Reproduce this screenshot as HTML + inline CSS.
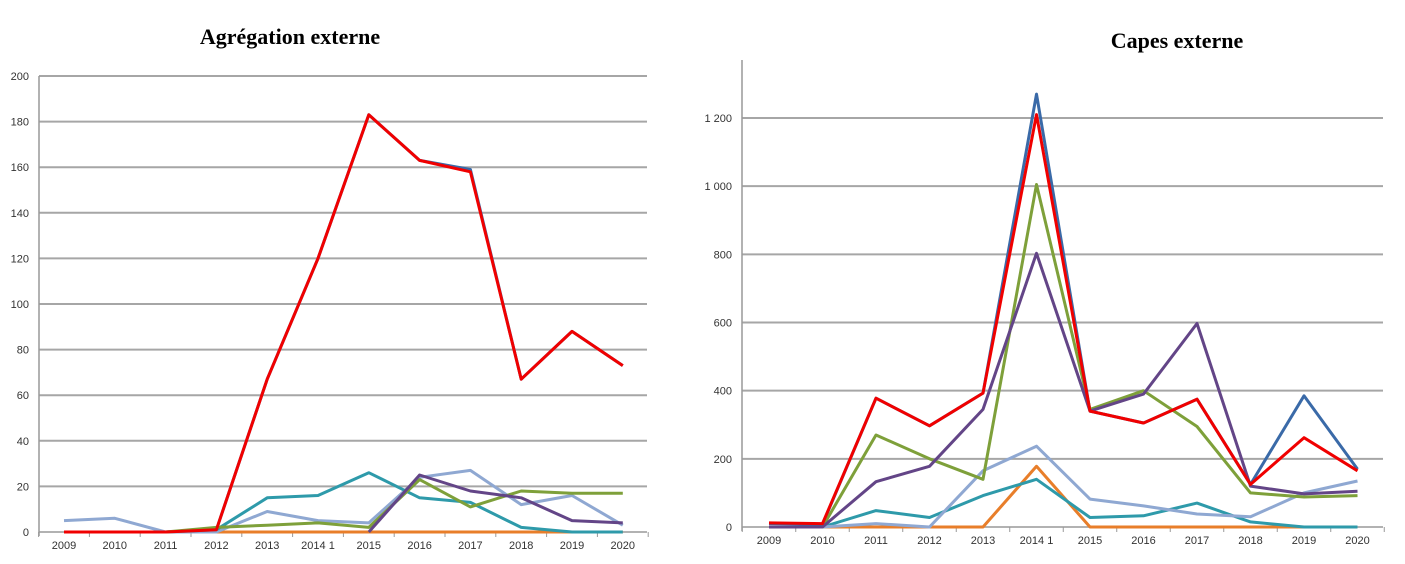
<!DOCTYPE html>
<html><head><meta charset="utf-8"><style>
body{margin:0;background:#fff;width:1405px;height:559px;overflow:hidden}
svg text{font-family:"Liberation Sans",sans-serif}
</style></head><body>
<svg id="s" width="1405" height="559">
<text x="290" y="44" text-anchor="middle" font-weight="bold" font-size="22" style="font-family:'Liberation Serif',serif">Agrégation externe</text>
<text x="1177" y="48" text-anchor="middle" font-weight="bold" font-size="22" style="font-family:'Liberation Serif',serif">Capes externe</text>
</svg>
<script>
const categories=["2009","2010","2011","2012","2013","2014 1","2015","2016","2017","2018","2019","2020"];
const leftTicks=[0,20,40,60,80,100,120,140,160,180,200];
const leftBlue=[0,0,0,1,67,120,183,163,159,67,88,73];
const leftRed=[0,0,0,1,67,120,183,163,158,67,88,73];
const leftTeal=[null,null,0,1,15,16,26,15,13,2,0,0];
const leftLight=[5,6,0,0,9,5,4,24,27,12,16,3];
const leftGreen=[null,null,0,2,3,4,2,23,11,18,17,17];
const leftPurple=[null,null,null,null,null,null,0,25,18,15,5,4];
const leftOrange=[0,0,0,0,0,0,0,0,0,0,0,0];
const rightTicks=[0,200,400,600,800,1000,1200];
const rightTickLabels=["0","200","400","600","800","1 000","1 200"];
const rightBlue=[10,8,378,297,393,1270,340,305,375,125,385,170];
const rightRed=[12,10,378,297,393,1210,340,305,375,125,262,165];
const rightGreen=[0,0,270,200,140,1005,345,400,295,100,88,92];
const rightPurple=[0,0,133,178,345,803,340,390,597,120,97,105];
const rightLight=[0,0,10,0,165,237,82,62,38,30,100,135];
const rightTeal=[0,0,48,28,92,140,28,33,70,15,0,0];
const rightOrange=[0,0,0,0,0,178,0,0,0,0,0,0];
const C={blue:"#3a6aa8",red:"#f00000",green:"#7ea03a",purple:"#634587",light:"#8fa8d2",teal:"#2e9aaa",orange:"#e87e2a"};
const svg=document.getElementById('s');const NS="http://www.w3.org/2000/svg";
function mk(t,a,p){const e=document.createElementNS(NS,t);for(const k in a)e.setAttribute(k,a[k]);(p||svg).appendChild(e);return e;}
function chart(cfg){
 const{ax,x0,dx,y0,yTop,vmax,gx2,axTop,ticks,labels,series,id}=cfg;
 const X=i=>x0+i*dx, Y=v=>y0-(y0-yTop)*v/vmax;
 const g=mk('g',{});
 ticks.forEach((t,i)=>{
  if(t>0){const l=mk('line',{x1:ax,x2:gx2,y1:Y(t),y2:Y(t),stroke:"#a6a6a6","stroke-width":2},g);}
  const tx=mk('text',{x:ax-10,y:Y(t)+4,"text-anchor":"end","font-size":11,fill:"#333"},g);tx.textContent=labels[i];
  
 });
 const a=mk('line',{x1:ax,x2:ax,y1:axTop,y2:y0+4,stroke:"#999","stroke-width":1.5},g);
 const b=mk('line',{x1:ax,x2:gx2,y1:y0,y2:y0,stroke:"#999","stroke-width":1.5},g);
 for(let i=0;i<=categories.length;i++){mk('line',{x1:X(i)-dx/2,x2:X(i)-dx/2,y1:y0,y2:y0+5,stroke:"#999"},g);}
 categories.forEach((c,i)=>{const t=mk('text',{x:X(i),y:y0+17,"text-anchor":"middle","font-size":11,fill:"#333"},g);t.textContent=c;
  });
 series.forEach(([name,vals])=>{let d="",pen=false;vals.forEach((v,i)=>{if(v==null){pen=false;return;}d+=(pen?"L":"M")+X(i).toFixed(1)+","+Y(v).toFixed(1);pen=true;});
  const p=mk('path',{d,fill:"none",stroke:C[name],"stroke-width":3,"stroke-linejoin":"round"},g);
  });
}
chart({id:"agregation",ax:39,x0:64,dx:50.8,y0:532,yTop:76,vmax:200,gx2:647,axTop:76,ticks:leftTicks,labels:leftTicks.map(String),
 series:[["orange",leftOrange],["blue",leftBlue],["light",leftLight],["teal",leftTeal],["green",leftGreen],["purple",leftPurple],["red",leftRed]]});
chart({id:"capes",ax:742,x0:769,dx:53.5,y0:527,yTop:118,vmax:1200,gx2:1383,axTop:60,ticks:rightTicks,labels:rightTickLabels,
 series:[["orange",rightOrange],["teal",rightTeal],["light",rightLight],["blue",rightBlue],["green",rightGreen],["purple",rightPurple],["red",rightRed]]});
</script>
</body></html>
